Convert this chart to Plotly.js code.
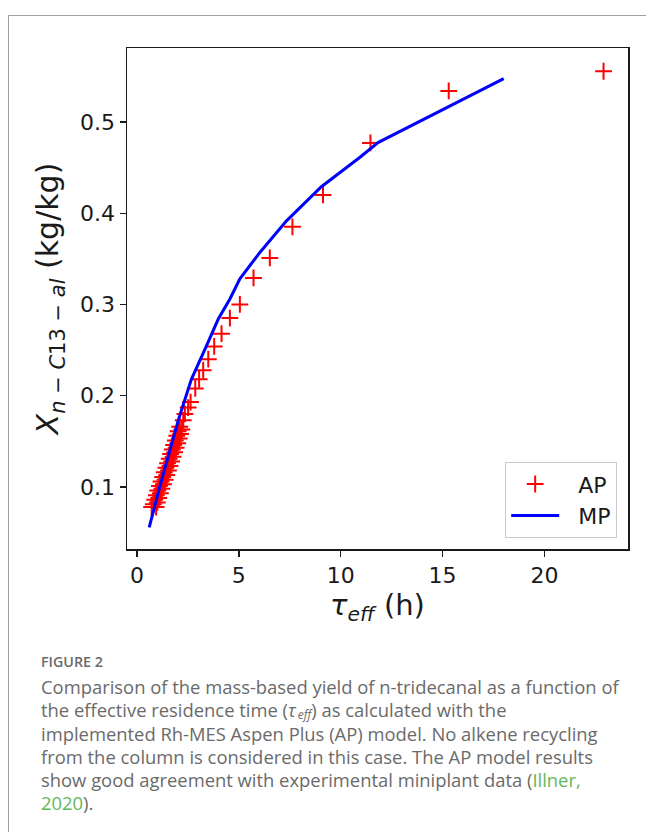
<!DOCTYPE html>
<html>
<head>
<meta charset="utf-8">
<script src="https://cdn.plot.ly/plotly-3.0.1.min.js"></script>
<style>
  html, body { margin: 0; padding: 0; background: #fff; width: 646px; height: 832px; overflow: hidden; }
  #card { position: absolute; left: 8px; top: 15px; width: 700px; height: 900px; border: 1.5px solid #a0a0a0; box-sizing: border-box; }
  #chart { position: absolute; left: 0; top: 0; width: 646px; height: 640px; }
  #caption { position: absolute; left: 41px; top: 652px; width: 605px; font-family: "Open Sans", "Noto Sans", sans-serif; color: #6a6a6a; }
  #figlabel { font-size: 14.3px; font-weight: 600; line-height: 20px; }
  #captext { font-size: 18.4px; line-height: 23.3px; margin-top: 3px; white-space: nowrap; }
  #captext i { padding-right: 1px; }
  #captext sub { font-size: 12px; line-height: 0; vertical-align: -2px; font-style: italic; margin-left: 1px; }
  #captext a { color: #62b85a; text-decoration: none; }
</style>
</head>
<body>
<div id="card"></div>
<div id="chart"></div>
<div id="caption">
  <div id="figlabel">FIGURE 2</div>
  <div id="captext">Comparison of the mass-based yield of n-tridecanal as a function of<br>the effective residence time (<i>τ</i><sub>eff</sub>) as calculated with the<br>implemented Rh-MES Aspen Plus (AP) model. No alkene recycling<br>from the column is considered in this case. The AP model results<br>show good agreement with experimental miniplant data (<a>Illner,<br>2020</a>).</div>
</div>
<script>
// AP (Aspen Plus) model results: effective residence time (h) and yield (kg/kg)
const apTau = [
  0.72, 0.94, 0.80, 1.00, 0.87, 1.07, 0.95, 1.15, 1.02, 1.22,
  1.10, 1.30, 1.18, 1.38, 1.26, 1.46, 1.34, 1.54, 1.42, 1.62,
  1.50, 1.70, 1.58, 1.77, 1.65, 1.85, 1.73, 1.92, 1.80, 2.00,
  1.88, 2.07, 1.95, 2.14, 2.02, 2.20, 2.10, 2.27, 2.35, 2.51,
  2.63, 2.86, 3.05, 3.25, 3.50, 3.79, 4.15, 4.56, 5.05, 5.72,
  6.52, 7.63, 9.13, 11.46, 15.3, 22.9
];
const apYield = [
  0.078, 0.078, 0.081, 0.083, 0.086, 0.088, 0.091, 0.093, 0.096, 0.098,
  0.101, 0.103, 0.106, 0.108, 0.111, 0.113, 0.116, 0.118, 0.121, 0.123,
  0.126, 0.128, 0.131, 0.133, 0.136, 0.138, 0.141, 0.143, 0.146, 0.148,
  0.151, 0.153, 0.156, 0.158, 0.161, 0.163, 0.166, 0.173, 0.180, 0.187,
  0.193, 0.208, 0.218, 0.228, 0.240, 0.254, 0.268, 0.285, 0.300, 0.329,
  0.351, 0.385, 0.420, 0.477, 0.534, 0.5555
];
// MP model curve
const mpTau = [0.60, 1.13, 2.04, 2.67, 3.41, 3.99, 4.56, 5.05, 6.03, 7.34, 9.05, 10.93, 11.83, 18.0];
const mpYield = [0.0557, 0.1013, 0.174, 0.218, 0.2547, 0.284, 0.306, 0.328, 0.357, 0.3916, 0.429, 0.461, 0.4774, 0.5475];

const xTicks = [0, 5, 10, 15, 20];
const yTicks = [0.1, 0.2, 0.3, 0.4, 0.5];
const yTickText = ["0.1", "0.2", "0.3", "0.4", "0.5"];

const font = "DejaVu Sans, sans-serif";

const traces = [
  {
    x: apTau, y: apYield, name: "\u00a0\u00a0AP", type: "scatter", mode: "markers",
    marker: { symbol: "cross-thin", size: 12, color: "#ff0000", line: { color: "#ff0000", width: 2 } }
  },
  {
    x: mpTau, y: mpYield, name: "\u00a0\u00a0MP", type: "scatter", mode: "lines",
    line: { color: "#0000ff", width: 3 }
  }
];

const axisCommon = {
  showgrid: false, zeroline: false,
  showline: true, mirror: true, linecolor: "#1a1a1a", linewidth: 1.5,
  ticks: "outside", ticklen: 6, tickwidth: 1.3, tickcolor: "#1a1a1a",
  tickfont: { family: font, size: 22, color: "#1a1a1a" },
  automargin: false
};

const layout = {
  width: 646, height: 640,
  margin: { l: 127, r: 18, t: 48, b: 91 },
  paper_bgcolor: "rgba(0,0,0,0)", plot_bgcolor: "#ffffff",
  showlegend: true,
  xaxis: Object.assign({}, axisCommon, {
    range: [-0.49, 24.1], tickmode: "array", tickvals: xTicks,
    title: { text: "<i>τ</i><sub><i>eff</i></sub> (h)", font: { family: font, size: 29, color: "#1a1a1a" }, standoff: 6 }
  }),
  yaxis: Object.assign({}, axisCommon, {
    range: [0.032, 0.581], tickmode: "array", tickvals: yTicks, ticktext: yTickText,
    title: { text: "<i>X</i><sub><i>n</i> − <i>C</i>13 − <i>al</i></sub> (kg/kg)", font: { family: font, size: 30, color: "#1a1a1a" }, standoff: 12 }
  }),
  legend: {
    x: 0.978, y: 0.022, xanchor: "right", yanchor: "bottom",
    bgcolor: "#ffffff", bordercolor: "#cccccc", borderwidth: 1.2,
    font: { family: font, size: 22, color: "#1a1a1a" },
    itemwidth: 48, tracegroupgap: 2
  }
};

Plotly.newPlot("chart", traces, layout, { displayModeBar: false, staticPlot: true });
</script>
</body>
</html>
